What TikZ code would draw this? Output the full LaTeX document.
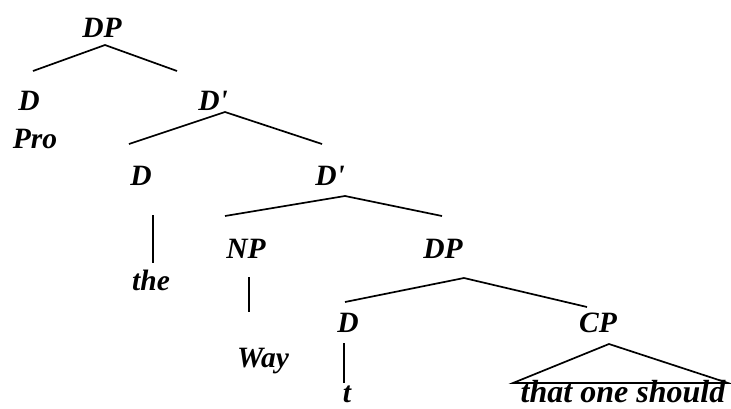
\documentclass[tikz,border=0pt]{standalone}
\usepackage{fontspec}
\setmainfont{Liberation Serif}
\usepackage{tikz}
\usetikzlibrary{calc}
\tikzset{
  % category and word labels
  lbl/.style={anchor=base,inner sep=0pt,font=\fontsize{29.5}{32}\selectfont\bfseries\itshape},
  phrase/.style={lbl,font=\fontsize{32}{34}\selectfont\bfseries\itshape},
  % branches
  br/.style={draw=black,line width=1.7pt,line cap=butt},
}
\newcommand{\prm}{\textquotesingle}
\begin{document}
\begin{tikzpicture}[x=1pt,y=-1pt]
  \useasboundingbox (0,0) rectangle (731,408);

  % Labels
  \node[lbl] (dp1)  at (102,37)  {DP};
  \node[lbl] (d1)   at (29,110)  {D};
  \node[lbl] (pro)  at (35,148)  {Pro};
  \node[lbl] (db1)  at (213,110) {D\prm};
  \node[lbl] (d2)   at (141,185) {D};
  \node[lbl] (the)  at (151,290) {the};
  \node[lbl] (db2)  at (330,185) {D\prm};
  \node[lbl] (np)   at (246,258) {NP};
  \node[lbl] (way)  at (263,367) {Way};
  \node[lbl] (dp2)  at (443,258) {DP};
  \node[lbl] (d3)   at (348,332) {D};
  \node[lbl] (t)    at (347,402) {t};
  \node[phrase] (cpw) at (623,402) {that one should};
  \node[lbl] (cp)   at (598,332) {CP};

  % Branch points
  \coordinate (dp1-a) at (105,45);
  \coordinate (dp1-l) at (33,71);
  \coordinate (dp1-r) at (177,71);
  \coordinate (db1-a) at (225,112);
  \coordinate (db1-l) at (129,144);
  \coordinate (db1-r) at (322,144);
  \coordinate (db2-a) at (345,196);
  \coordinate (db2-l) at (225,216);
  \coordinate (db2-r) at (442,216);
  \coordinate (dp2-a) at (464,278);
  \coordinate (dp2-l) at (345,302);
  \coordinate (dp2-r) at (587,307);
  \coordinate (cp-a)  at (609,344);
  \coordinate (cp-l)  at (513,383);
  \coordinate (cp-r)  at (728,383);
  \coordinate (d2-u)  at (153,215);
  \coordinate (the-u) at (153,263);
  \coordinate (np-u)  at (249,277);
  \coordinate (way-u) at (249,312);
  \coordinate (d3-u)  at (344,343);
  \coordinate (t-u)   at (344,383);

  % Branches
  \draw[br] (dp1-l) -- (dp1-a) -- (dp1-r);
  \draw[br] (db1-l) -- (db1-a) -- (db1-r);
  \draw[br] (db2-l) -- (db2-a) -- (db2-r);
  \draw[br] (dp2-l) -- (dp2-a) -- (dp2-r);
  \draw[br] (cp-l) -- (cp-a) -- (cp-r) -- cycle;

  % Unary branches
  \draw[br] (d2-u) -- (the-u);
  \draw[br] (np-u) -- (way-u);
  \draw[br] (d3-u) -- (t-u);
\end{tikzpicture}
\end{document}
